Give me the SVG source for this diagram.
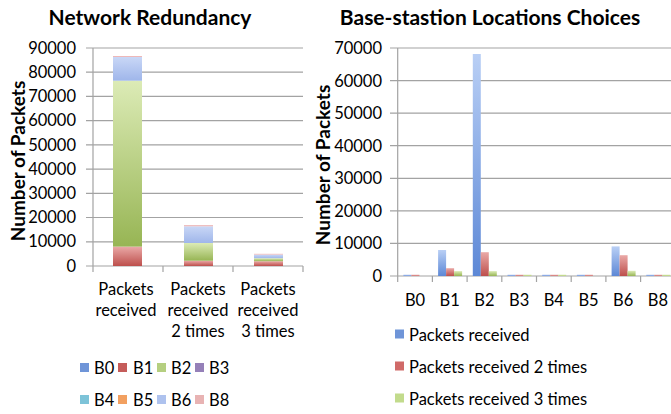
<svg xmlns="http://www.w3.org/2000/svg" width="671" height="414" viewBox="0 0 671 414">
<style>
text{font-family:Lato,"Liberation Sans",sans-serif;fill:#000}
.title{font-size:21px;font-weight:bold}
.ytitle{font-size:19px;font-weight:bold}
.tick{font-size:16.5px}
.lab{font-size:16.5px}
.grid{stroke:#a3a3a3;stroke-width:1.2;fill:none}
</style>
<defs>
<linearGradient id="gBlue" x1="0" y1="0" x2="0" y2="1"><stop offset="0" stop-color="#b9cff5"/><stop offset="1" stop-color="#5d88d6"/></linearGradient>
<linearGradient id="gRed" x1="0" y1="0" x2="0" y2="1"><stop offset="0" stop-color="#eaa9a7"/><stop offset="1" stop-color="#bd4f4c"/></linearGradient>
<linearGradient id="gGreen" x1="0" y1="0" x2="0" y2="1"><stop offset="0" stop-color="#dcebb6"/><stop offset="1" stop-color="#97b554"/></linearGradient>
<linearGradient id="gLBlue" x1="0" y1="0" x2="0" y2="1"><stop offset="0" stop-color="#c9d7f6"/><stop offset="1" stop-color="#9fb6ea"/></linearGradient>
</defs>

<g id="left-chart">
  <text class="title" x="150" y="25" text-anchor="middle">Network Redundancy</text>
  <text class="ytitle" transform="translate(25,161) rotate(-90)" text-anchor="middle">Number of Packets</text>
  <g id="left-grid" class="grid">
    <path d="M86 48H303M86 72.2H303M86 96.4H303M86 120.7H303M86 144.9H303M86 169.1H303M86 193.3H303M86 217.5H303M86 241.8H303M86 266H303"/>
    <path d="M93 48V266M93 266V272M163 266V272M233 266V272M303 266V272"/>
  </g>
  <g id="left-yticks" class="tick" text-anchor="end">
    <text x="76" y="54">90000</text>
    <text x="76" y="78">80000</text>
    <text x="76" y="102">70000</text>
    <text x="76" y="126">60000</text>
    <text x="76" y="151">50000</text>
    <text x="76" y="175">40000</text>
    <text x="76" y="199">30000</text>
    <text x="76" y="223">20000</text>
    <text x="76" y="247">10000</text>
    <text x="76" y="272">0</text>
  </g>
  <g id="bar-received">
    <rect x="113" y="246.6" width="29" height="19.4" fill="url(#gRed)"/>
    <rect x="113" y="80.7" width="29" height="165.9" fill="url(#gGreen)"/>
    <rect x="113" y="57" width="29" height="23.7" fill="url(#gLBlue)"/>
    <rect x="113" y="56" width="29" height="1" fill="#eeb8b8"/>
  </g>
  <g id="bar-received-2">
    <rect x="184" y="260.7" width="29" height="5.3" fill="url(#gRed)"/>
    <rect x="184" y="243" width="29" height="17.7" fill="url(#gGreen)"/>
    <rect x="184" y="226.3" width="29" height="16.7" fill="url(#gLBlue)"/>
    <rect x="184" y="225.1" width="29" height="1.2" fill="#eeb8b8"/>
  </g>
  <g id="bar-received-3">
    <rect x="254" y="261.2" width="29" height="4.8" fill="url(#gRed)"/>
    <rect x="254" y="258.2" width="29" height="3" fill="url(#gGreen)"/>
    <rect x="254" y="254.6" width="29" height="3.6" fill="url(#gLBlue)"/>
    <rect x="254" y="253.8" width="29" height="0.8" fill="#eeb8b8"/>
  </g>
  <g id="left-xlabels" class="lab" text-anchor="middle">
    <text x="126" y="295">Packets</text>
    <text x="126" y="316">received</text>
    <text x="198" y="295">Packets</text>
    <text x="198" y="316">received</text>
    <text x="198" y="337">2 times</text>
    <text x="268" y="295">Packets</text>
    <text x="268" y="316">received</text>
    <text x="268" y="337">3 times</text>
  </g>
  <g id="left-legend" class="lab">
    <rect x="80" y="363" width="9" height="9" fill="#6f95d8"/><text x="94" y="374">B0</text>
    <rect x="118" y="363" width="9" height="9" fill="#c55c5a"/><text x="133" y="374">B1</text>
    <rect x="157" y="363" width="9" height="9" fill="#b5cf80"/><text x="171" y="374">B2</text>
    <rect x="195" y="363" width="9" height="9" fill="#9580b8"/><text x="209" y="374">B3</text>
    <rect x="80" y="395" width="9" height="9" fill="#7dc3d8"/><text x="94" y="406">B4</text>
    <rect x="118" y="395" width="9" height="9" fill="#f2a060"/><text x="133" y="406">B5</text>
    <rect x="157" y="395" width="9" height="9" fill="#aec2ee"/><text x="171" y="406">B6</text>
    <rect x="195" y="395" width="9" height="9" fill="#e8b3b3"/><text x="209" y="406">B8</text>
  </g>
</g>

<g id="right-chart">
  <text class="title" x="490" y="25" text-anchor="middle">Base-stastion Locations Choices</text>
  <text class="ytitle" transform="translate(330,165) rotate(-90)" text-anchor="middle">Number of Packets</text>
  <g id="right-grid" class="grid">
    <path d="M390 48H671M390 80.6H671M390 113.1H671M390 145.7H671M390 178.3H671M390 210.9H671M390 243.4H671M390 276H671"/>
    <path d="M397.7 48V276M397.7 276V282M432.4 276V282M467.1 276V282M501.8 276V282M536.5 276V282M571.2 276V282M605.9 276V282M640.6 276V282"/>
  </g>
  <g id="right-yticks" class="tick" text-anchor="end">
    <text x="382" y="54">70000</text>
    <text x="382" y="87">60000</text>
    <text x="382" y="119">50000</text>
    <text x="382" y="152">40000</text>
    <text x="382" y="184">30000</text>
    <text x="382" y="217">20000</text>
    <text x="382" y="249">10000</text>
    <text x="382" y="282">0</text>
  </g>
  <g id="right-bars">
    <rect x="403.4" y="274.8" width="8" height="1.2" fill="#8aa9e4"/>
    <rect x="411.4" y="274.8" width="8" height="1.2" fill="#d98886"/>
    <rect x="438.1" y="250" width="8" height="26" fill="url(#gBlue)"/>
    <rect x="446.1" y="268.2" width="8" height="7.8" fill="url(#gRed)"/>
    <rect x="454.1" y="271.1" width="8" height="4.9" fill="url(#gGreen)"/>
    <rect x="472.8" y="54" width="8" height="222" fill="url(#gBlue)"/>
    <rect x="480.8" y="252.2" width="8" height="23.8" fill="url(#gRed)"/>
    <rect x="488.8" y="271.1" width="8" height="4.9" fill="url(#gGreen)"/>
    <rect x="507.5" y="274.8" width="8" height="1.2" fill="#8aa9e4"/>
    <rect x="515.5" y="274.8" width="8" height="1.2" fill="#d98886"/>
    <rect x="523.5" y="274.8" width="8" height="1.2" fill="#c3d98e"/>
    <rect x="542.2" y="274.8" width="8" height="1.2" fill="#8aa9e4"/>
    <rect x="550.2" y="274.8" width="8" height="1.2" fill="#d98886"/>
    <rect x="558.2" y="274.8" width="8" height="1.2" fill="#c3d98e"/>
    <rect x="576.9" y="274.8" width="8" height="1.2" fill="#8aa9e4"/>
    <rect x="584.9" y="274.8" width="8" height="1.2" fill="#d98886"/>
    <rect x="611.6" y="246.4" width="8" height="29.6" fill="url(#gBlue)"/>
    <rect x="619.6" y="255.2" width="8" height="20.8" fill="url(#gRed)"/>
    <rect x="627.6" y="270.8" width="8" height="5.2" fill="url(#gGreen)"/>
    <rect x="646.3" y="274.8" width="8" height="1.2" fill="#8aa9e4"/>
    <rect x="654.3" y="274.8" width="8" height="1.2" fill="#d98886"/>
    <rect x="662.3" y="274.8" width="8" height="1.2" fill="#c3d98e"/>
  </g>
  <g id="right-xlabels" class="lab" text-anchor="middle">
    <text x="415" y="306">B0</text>
    <text x="449.7" y="306">B1</text>
    <text x="484.4" y="306">B2</text>
    <text x="519.1" y="306">B3</text>
    <text x="553.8" y="306">B4</text>
    <text x="588.5" y="306">B5</text>
    <text x="623.2" y="306">B6</text>
    <text x="657.9" y="306">B8</text>
  </g>
  <g id="right-legend" class="lab">
    <rect x="395" y="329.5" width="9" height="9" fill="#6f95d8"/><text x="409" y="341">Packets received</text>
    <rect x="395" y="361.5" width="9" height="9" fill="#d06a68"/><text x="409" y="373">Packets received 2 times</text>
    <rect x="395" y="393.5" width="9" height="9" fill="#c2db8c"/><text x="409" y="405">Packets received 3 times</text>
  </g>
</g>
</svg>
